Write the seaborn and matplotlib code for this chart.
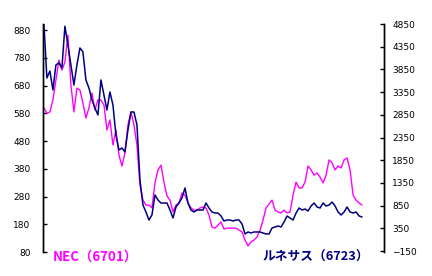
import matplotlib
matplotlib.use("Agg")
import matplotlib.pyplot as plt
import seaborn as sns
import numpy as np
import pandas as pd

# NEC (6701) - left axis, magenta
nec = [600, 580, 585, 628, 700, 772, 736, 765, 862, 682, 585, 671, 664, 617, 563, 599,
       653, 592, 628, 628, 610, 520, 556, 466, 520, 430, 390, 437, 538, 585, 538, 466,
       321, 267, 249, 249, 239, 329, 376, 393, 332, 282, 267, 224, 249, 257, 293, 285,
       257, 239, 231, 231, 239, 242, 239, 213, 170, 166, 177, 188, 163, 166, 166, 166,
       166, 159, 152, 123, 102, 116, 123, 134, 159, 195, 239, 253, 267, 231, 224, 221,
       231, 221, 224, 285, 332, 311, 311, 332, 390, 376, 357, 365, 350, 329, 357, 412,
       401, 376, 390, 383, 412, 419, 376, 285, 267, 257, 249]

# Renesas (6723) - right axis, navy
renesas = [4850, 3661, 3815, 3397, 3948, 3992, 3881, 4800, 4388, 3948, 3507, 3948, 4322,
           4234, 3617, 3441, 3177, 3000, 2846, 3617, 3287, 2956, 3353, 3066, 2405, 2075,
           2119, 2031, 2516, 2912, 2912, 2626, 1414, 863, 709, 533, 643, 1084, 974, 907,
           907, 907, 753, 577, 819, 907, 1018, 1238, 907, 753, 709, 753, 753, 753, 907,
           797, 709, 687, 687, 621, 511, 533, 533, 511, 533, 533, 445, 225, 269, 247, 269,
           269, 269, 247, 225, 225, 357, 379, 401, 379, 489, 621, 577, 533, 687, 797, 753,
           775, 731, 841, 907, 819, 797, 907, 841, 863, 929, 841, 709, 643, 709, 819, 709,
           687, 709, 621, 599]

left_ticks = [80, 180, 280, 380, 480, 580, 680, 780, 880]
right_ticks = [-150, 350, 850, 1350, 1850, 2350, 2850, 3350, 3850, 4350, 4850]
label_nec = "NEC（6701）"
label_ren = "ルネサス（6723）"

days = np.arange(len(nec))
df = pd.DataFrame({"day": days, "nec": nec, "renesas": renesas})

sns.set_style("white")
plt.rcParams["font.family"] = ["DejaVu Sans"]

fig = plt.figure(figsize=(4.32, 2.76), dpi=100)
ax = fig.add_axes([43 / 432, 1 - 252 / 276, (384 - 43) / 432, (252 - 24) / 276])
ax2 = ax.twinx()

sns.lineplot(data=df, x="day", y="nec", ax=ax, color="#FF00FF", linewidth=1.0)
sns.lineplot(data=df, x="day", y="renesas", ax=ax2, color="#000080", linewidth=1.1)

ax.set_xlim(-0.3, 113.3)
ax.set_ylim(80, 902)
ax2.set_ylim(-172, 4850)
ax.set_yticks(left_ticks)
ax2.set_yticks(right_ticks)
ax.set_yticklabels([str(t) for t in left_ticks])
ax2.set_yticklabels([str(t).replace("-", "−") for t in right_ticks])
ax.set_xticks([])
for a in (ax, ax2):
    a.set_xlabel("")
    a.set_ylabel("")
    a.spines["top"].set_visible(False)
    a.spines["bottom"].set_visible(False)
    a.spines["left"].set_visible(True)
    a.spines["right"].set_visible(True)
    a.spines["left"].set_color("black")
    a.spines["right"].set_color("black")
    a.spines["left"].set_linewidth(1.0)
    a.spines["right"].set_linewidth(1.0)
    a.patch.set_alpha(0)
ax.tick_params(axis="y", direction="in", length=3, width=1, labelsize=6.5, pad=9, left=True, colors="black")
ax2.tick_params(axis="y", direction="in", length=3, width=1, labelsize=6.5, pad=6, right=True, colors="black")

fig.text(53 / 432, 1 - 257 / 276, label_nec, color="#FF00FF", fontsize=9.6, fontweight="bold",
         va="center", ha="left", family=["Noto Sans CJK JP", "DejaVu Sans"])
fig.text(263 / 432, 1 - 257 / 276, label_ren, color="#000080", fontsize=9.2, fontweight="bold",
         va="center", ha="left", family=["Noto Sans CJK JP", "DejaVu Sans"])

fig.savefig("out.png", dpi=100, facecolor="white")
